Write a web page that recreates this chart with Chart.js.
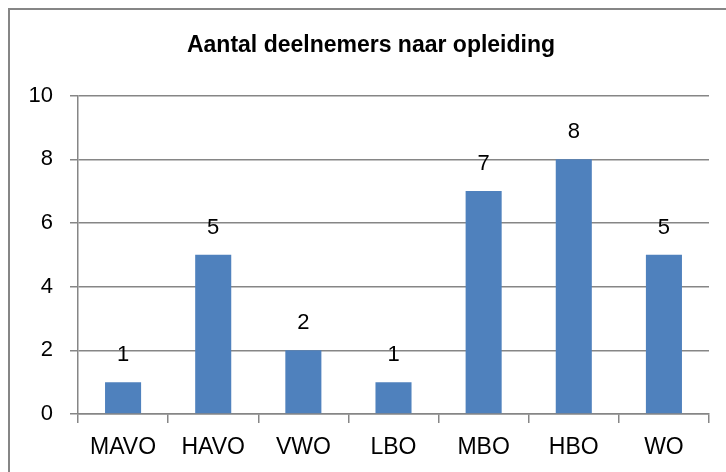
<!DOCTYPE html>
<html>
<head>
<meta charset="utf-8">
<script src="https://cdn.jsdelivr.net/npm/chart.js@4"></script>
<style>
html,body{margin:0;padding:0;background:#fff;overflow:hidden;}
#wrap{position:absolute;left:0;top:0;width:726px;height:472px;}
</style>
</head>
<body>
<div id="wrap"><canvas id="c" width="726" height="472"></canvas></div>
<script>
const categories = ["MAVO","HAVO","VWO","LBO","MBO","HBO","WO"];
const deelnemers = [1,5,2,1,7,8,5];
const yTicks = [0,2,4,6,8,10];
const chartTitle = "Aantal deelnemers naar opleiding";

const FONT = "'Liberation Sans', Arial, sans-serif";
const GRID = "#868686";

const framePlugin = {
  id: 'frame',
  afterLayout(chart){
    // let y tick labels extend past the scale box without being clipped
    if (chart.scales.y) chart.scales.y.left = 0;
  },
  beforeDraw(chart){
    const ctx = chart.ctx;
    ctx.save();
    ctx.fillStyle = '#fff';
    ctx.fillRect(0,0,chart.width,chart.height);
    ctx.strokeStyle = GRID;
    ctx.lineWidth = 2;
    ctx.beginPath();
    ctx.moveTo(9, chart.height);
    ctx.lineTo(9, 9);
    ctx.lineTo(chart.width, 9);
    ctx.stroke();
    ctx.restore();
  }
};

const labelPlugin = {
  id: 'barLabels',
  afterDatasetsDraw(chart){
    const ctx = chart.ctx;
    const meta = chart.getDatasetMeta(0);
    ctx.save();
    ctx.font = "22px " + FONT;
    ctx.fillStyle = '#000';
    ctx.textAlign = 'center';
    ctx.textBaseline = 'middle';
    meta.data.forEach((bar, i) => {
      ctx.fillText(String(chart.data.datasets[0].data[i]), bar.x, bar.y - 27);
    });
    ctx.restore();
  }
};

new Chart(document.getElementById('c'), {
  type: 'bar',
  data: {
    labels: categories,
    datasets: [{
      data: deelnemers,
      backgroundColor: '#4F81BD',
      borderWidth: 0,
      barPercentage: 0.4,
      categoryPercentage: 1.0
    }]
  },
  options: {
    responsive: false,
    animation: false,
    devicePixelRatio: 1,
    layout: { padding: { left: 33, right: 17, top: 0, bottom: 0 } },
    plugins: {
      legend: { display: false },
      tooltip: { enabled: false },
      title: {
        display: true,
        text: chartTitle,
        color: '#000',
        font: { family: FONT, size: 23, weight: 'bold' },
        padding: { top: 32, bottom: 36 }
      }
    },
    scales: {
      x: {
        grid: { offset: true, drawOnChartArea: false, color: GRID, tickLength: 9, lineWidth: 1.5 },
        border: { color: GRID, width: 1.5 },
        ticks: { color: '#000', font: { family: FONT, size: 23 }, padding: 11, maxRotation: 0 },
        afterFit(s){ s.height = 58; }
      },
      y: {
        min: 0, max: 10,
        afterBuildTicks(s){ s.ticks = yTicks.map(v => ({value: v})); },
        grid: { color: GRID, tickLength: 8, lineWidth: 1.5 },
        border: { color: GRID, width: 1.5 },
        ticks: { color: '#000', font: { family: FONT, size: 22 }, padding: 17 },
        afterFit(s){ s.width = 45; }
      }
    }
  },
  plugins: [framePlugin, labelPlugin]
});
</script>
</body>
</html>
